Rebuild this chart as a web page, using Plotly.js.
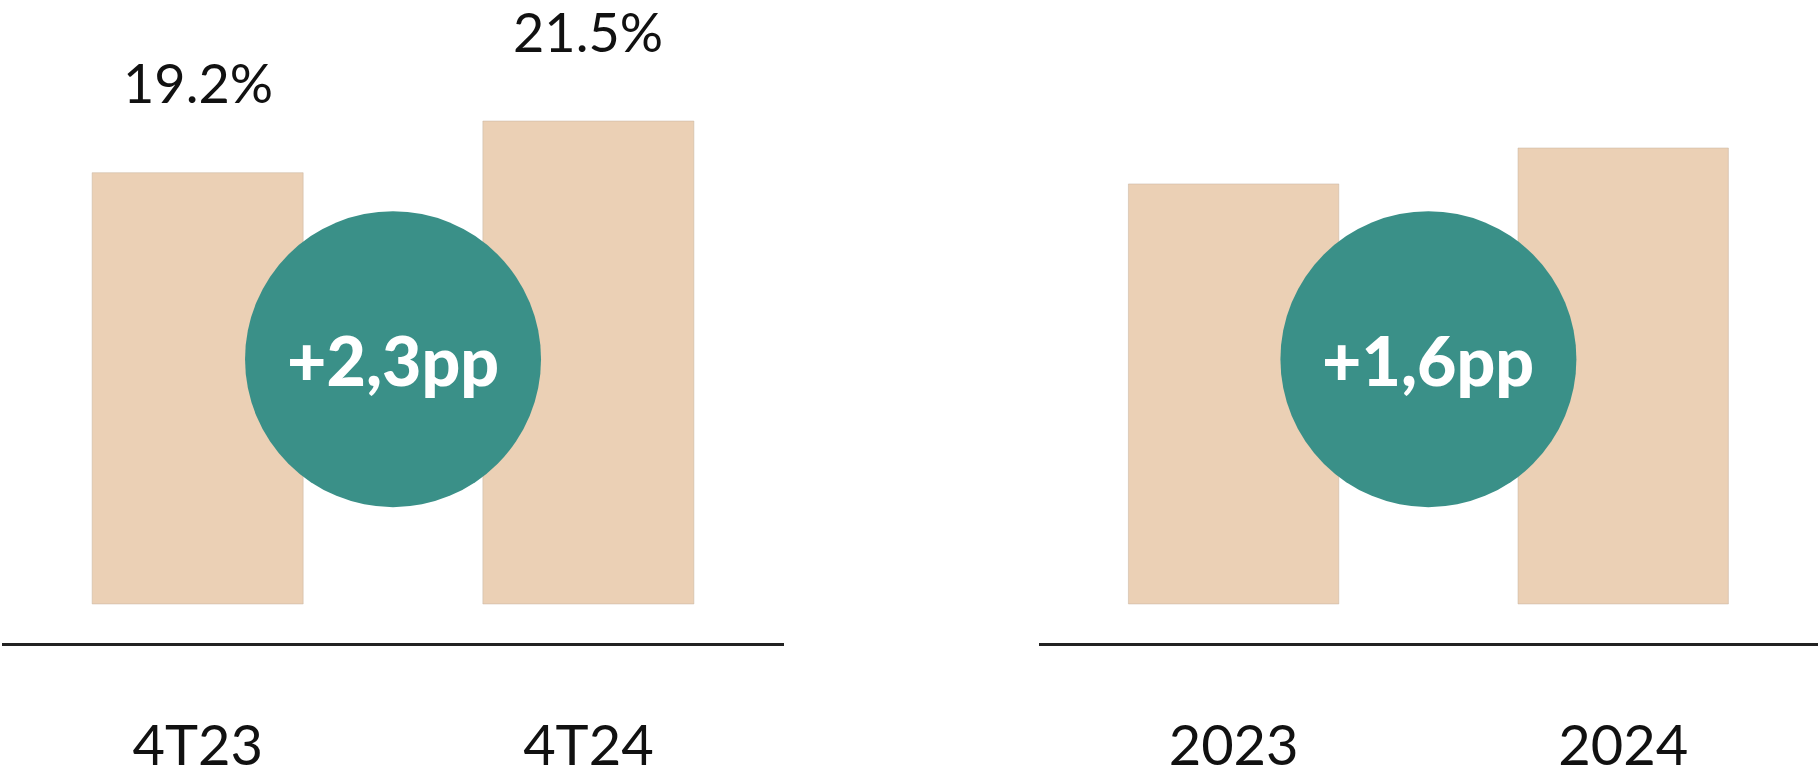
<!DOCTYPE html>
<html>
<head>
<meta charset="utf-8">
<script src="https://cdn.plot.ly/plotly-3.0.1.min.js"></script>
<style>html,body{margin:0;padding:0;background:#fff;}#chart{width:1818px;height:778px;}</style>
</head>
<body>
<div id="chart"></div>
<script>
// Data
const quarterCats = ["4T23", "4T24"];
const quarterValues = [19.2, 21.5];
const quarterLabels = ["19.2%", "21.5%"];
const quarterDelta = "+2,3pp";

const yearCats = ["2023", "2024"];
const yearValues = [18.7, 20.3];
const yearLabels = ["18.7%", "20.3%"];
const yearDelta = "+1,6pp";

const barColor = "rgb(235,208,181)";
const circleColor = "rgb(58,144,136)";
const textColor = "#111111";
const fontFamily = "Lato, 'Noto Sans', sans-serif";

const yRange = [-1.76, 26.89];
const circleY = 10.9;
const circleR = 148;

const traces = [
  {type: "bar", x: quarterCats, y: quarterValues, xaxis: "x", yaxis: "y", width: 0.54,
   marker: {color: barColor, line: {color: "rgba(200,180,160,0.5)", width: 1}}, hoverinfo: "skip"},
  {type: "bar", x: yearCats, y: yearValues, xaxis: "x2", yaxis: "y2", width: 0.54,
   marker: {color: barColor, line: {color: "rgba(200,180,160,0.5)", width: 1}}, hoverinfo: "skip"}
];

function valueAnnots(cats, vals, labels, xr, yr) {
  return cats.map((c, i) => ({
    x: c, y: vals[i], xref: xr, yref: yr, text: labels[i], showarrow: false,
    yanchor: "middle", xanchor: "center", yshift: 90,
    font: {family: fontFamily, size: 54, color: textColor}
  }));
}

function circleShape(xr, yr) {
  return {type: "circle", xref: xr, yref: yr, xsizemode: "pixel", ysizemode: "pixel",
    xanchor: 0.5, yanchor: circleY, x0: -circleR, x1: circleR, y0: -circleR, y1: circleR,
    fillcolor: circleColor, line: {width: 0}, layer: "above"};
}

function deltaAnnot(text, xr, yr) {
  return {x: 0.5, y: circleY, xref: xr, yref: yr, text: text, showarrow: false,
    xanchor: "center", yanchor: "middle",
    font: {family: fontFamily, size: 68, color: "#ffffff", weight: 900}};
}

const axisCommon = {
  type: "category", range: [-0.5, 1.5], showline: true, linecolor: "#222222", linewidth: 3,
  ticks: "", showgrid: false, zeroline: false, fixedrange: true,
  tickfont: {family: fontFamily, size: 56, color: textColor}, ticklabelstandoff: 51
};
const yCommon = {range: yRange, visible: false, showgrid: false, zeroline: false, fixedrange: true};

const layout = {
  width: 1818, height: 778,
  margin: {l: 0, r: 0, t: 0, b: 0},
  paper_bgcolor: "#ffffff", plot_bgcolor: "#ffffff",
  showlegend: false, bargap: 0,
  xaxis: Object.assign({}, axisCommon, {domain: [0.00127, 0.4311], anchor: "y"}),
  yaxis: Object.assign({}, yCommon, {domain: [0.1729, 1], anchor: "x"}),
  xaxis2: Object.assign({}, axisCommon, {domain: [0.5714, 1], anchor: "y2"}),
  yaxis2: Object.assign({}, yCommon, {domain: [0.1729, 1], anchor: "x2"}),
  shapes: [circleShape("x", "y"), circleShape("x2", "y2")],
  annotations: [].concat(
    valueAnnots(quarterCats, quarterValues, quarterLabels, "x", "y"),
    valueAnnots(yearCats, yearValues, yearLabels, "x2", "y2"),
    [deltaAnnot(quarterDelta, "x", "y"), deltaAnnot(yearDelta, "x2", "y2")]
  )
};

Plotly.newPlot("chart", traces, layout, {displayModeBar: false, staticPlot: true});
</script>
</body>
</html>
